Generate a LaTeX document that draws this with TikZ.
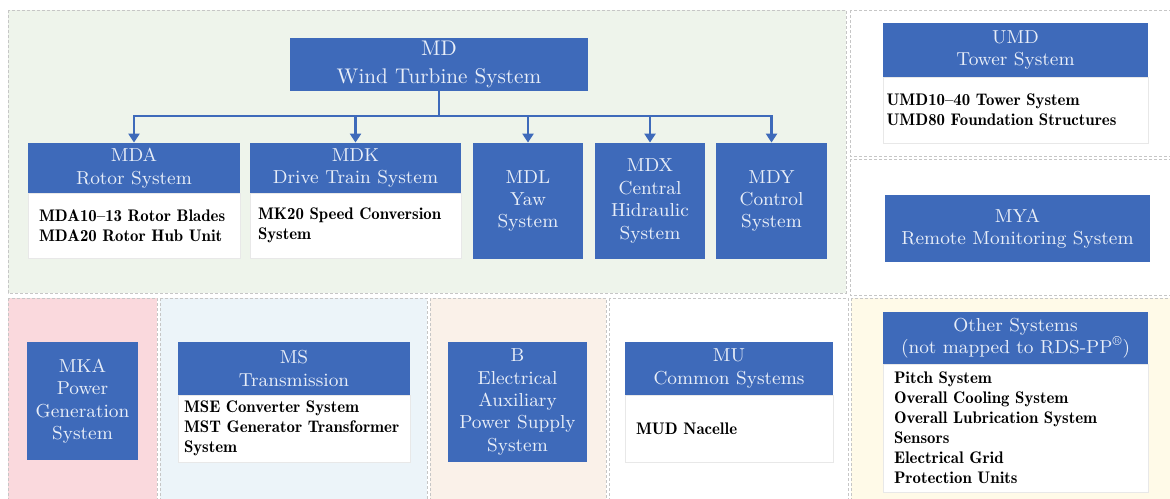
\documentclass[tikz,border=0pt]{standalone}
\usetikzlibrary{arrows.meta}
\definecolor{boxblue}{RGB}{62,106,186}
\definecolor{hdrtext}{RGB}{232,238,248}
\definecolor{rgreen}{RGB}{238,244,235}
\definecolor{rpink}{RGB}{250,217,221}
\definecolor{rblue}{RGB}{236,244,249}
\definecolor{rbeige}{RGB}{250,241,233}
\definecolor{ryellow}{RGB}{255,250,232}
\begin{document}
\begin{tikzpicture}[x=0.5pt,y=-0.5pt,
  region/.style={draw=gray!45, dash pattern=on 1.5pt off 1pt, line width=0.5pt},
  hdr/.style={fill=boxblue, text=hdrtext, align=center, inner sep=0pt,
    font=\fontsize{9.4}{11.2}\selectfont},
  bodybox/.style={fill=white, draw=gray!18, line width=0.4pt, align=left, inner ysep=0pt, inner xsep=5.5pt,
    font=\fontsize{8.4}{10}\selectfont\fontseries{b}\selectfont},
  arr/.style={draw=boxblue, line width=1.2pt, -{Triangle[length=4.5pt,width=5.5pt]}}]
\useasboundingbox (0,0) rectangle (1170,498);
\fill[white] (0,0) rectangle (1170,498);
% regions
\path[region, fill=rgreen] (8,10) rectangle (846,293);
\path[region, fill=white] (850,10) rectangle (1180,156);
\path[region, fill=white] (850,159) rectangle (1180,295);
\path[region, fill=rpink] (8,298) rectangle (157,510);
\path[region, fill=rblue] (160,298) rectangle (427,510);
\path[region, fill=rbeige] (430,298) rectangle (606,510);
\path[region, fill=white] (609,298) rectangle (848,510);
\path[region, fill=ryellow] (851,298) rectangle (1180,510);
% top group
\node[hdr, minimum width=149pt, minimum height=26.5pt, font=\fontsize{10.6}{14}\selectfont] (MD) at (439,64.5) {MD\\Wind Turbine System};
\node[hdr, minimum width=106pt, minimum height=25pt] (MDA) at (134,168) {MDA\\Rotor System};
\node[bodybox, minimum width=106pt, minimum height=32.5pt, text width=95pt] (MDAb) at (134,225.5) {MDA10--13 Rotor Blades\\MDA20 Rotor Hub Unit};
\node[hdr, minimum width=105.5pt, minimum height=25pt] (MDK) at (355.5,168) {MDK\\Drive Train System};
\node[bodybox, minimum width=105.5pt, minimum height=32.5pt, text width=97.5pt, inner xsep=4pt] (MDKb) at (355.5,225.5) {MK20 Speed Conversion\\System};
\node[hdr, minimum width=55pt, minimum height=58pt] (MDL) at (528,201) {MDL\\Yaw\\System};
\node[hdr, minimum width=55pt, minimum height=58pt] (MDX) at (650,201) {MDX\\Central\\Hidraulic\\System};
\node[hdr, minimum width=55.5pt, minimum height=58pt] (MDY) at (771.5,201) {MDY\\Control\\System};
\coordinate (bus) at (0,116);
\foreach \t in {MDA,MDK,MDL,MDX,MDY}
  \draw[arr] (MD.south) -- (MD.south |- bus) -| (\t.north);
% right column
\node[hdr, minimum width=132.5pt, minimum height=27pt] (UMD) at (1015.5,50) {UMD\\Tower System};
\node[bodybox, minimum width=132.5pt, minimum height=33pt, text width=129pt, inner xsep=1.75pt] (UMDb) at (1015.5,110) {UMD10--40 Tower System\\UMD80 Foundation Structures};
\node[hdr, minimum width=132.5pt, minimum height=33.5pt] (MYA) at (1017.5,228.5) {MYA\\Remote Monitoring System};
% bottom row
\node[hdr, minimum width=55.5pt, minimum height=59pt] (MKA) at (82.5,401) {MKA\\Power\\Generation\\System};
\node[hdr, minimum width=116pt, minimum height=26.5pt] (MS) at (294,368.5) {MS\\Transmission};
\node[bodybox, minimum width=116pt, minimum height=33.5pt, text width=110pt, inner xsep=3pt] (MSb) at (294,428.5) {MSE Converter System\\MST Generator Transformer\\System};
\node[hdr, minimum width=69.5pt, minimum height=60pt] (B) at (517.5,402) {B\\Electrical\\Auxiliary\\Power Supply\\System};
\node[hdr, minimum width=104pt, minimum height=26.5pt] (MU) at (729,368.5) {MU\\Common Systems};
\node[bodybox, minimum width=104pt, minimum height=33.5pt, text width=93pt] (MUb) at (729,428.5) {MUD Nacelle};
\node[hdr, minimum width=132.5pt, minimum height=26pt] (OS) at (1015.5,338) {Other Systems\\(not mapped to RDS-PP\textsuperscript{\textregistered})};
\node[bodybox, minimum width=132.5pt, minimum height=64pt, text width=121.5pt] (OSb) at (1015.5,428) {Pitch System\\Overall Cooling System\\Overall Lubrication System\\Sensors\\Electrical Grid\\Protection Units};
\end{tikzpicture}
\end{document}
